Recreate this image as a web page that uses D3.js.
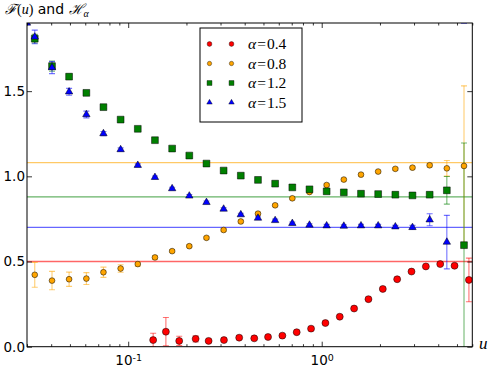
<!DOCTYPE html>
<html>
<head>
<meta charset="utf-8">
<script src="https://cdn.jsdelivr.net/npm/d3@7"></script>
<style>
  body { margin: 0; background: #fff; }
  .tick text { font-family: "DejaVu Sans", sans-serif; font-size: 13.5px; fill: #000; }
  .axis path { display: none; }
  .axis line { stroke: #000; stroke-width: 0.8; }
</style>
</head>
<body>
<div id="chart"></div>
<script>
var svgWidth = 491;
var svgHeight = 370;

var margin = { top: 23, right: 18.7, bottom: 23.3, left: 27 };
var chartWidth = svgWidth - margin.left - margin.right;
var chartHeight = svgHeight - margin.top - margin.bottom;

// u values (bins) shared by alpha = 0.8, 1.2, 1.5
var uBins = [0.0329, 0.0404, 0.0495, 0.0608, 0.0745, 0.0914, 0.1121, 0.1375, 0.1687, 0.2069,
             0.2538, 0.3113, 0.3819, 0.4685, 0.5746, 0.7049, 0.8646, 1.0605, 1.3009, 1.5958,
             1.9575, 2.4013, 2.9444, 3.6128, 4.4317, 5.4362];
// u values for alpha = 0.4
var uRed = [0.1346, 0.1566, 0.1835, 0.2231, 0.2604, 0.3125, 0.3746, 0.4481, 0.5280, 0.6262,
            0.7427, 0.8809, 1.0450, 1.2395, 1.4704, 1.7439, 2.0690, 2.4541, 2.9107, 3.4530,
            4.0960, 4.8584, 5.7637];

var fRed = [0.039, 0.088, 0.034, 0.046, 0.034, 0.039, 0.053, 0.049, 0.057, 0.065,
            0.085, 0.106, 0.139, 0.176, 0.224, 0.279, 0.339, 0.396, 0.441, 0.471,
            0.485, 0.475, 0.392];
var eRed = [0.040, 0.083, 0.027, 0.018, 0.008, 0.008, 0.010, 0.006, 0.006, 0.006,
            0.006, 0.006, 0.006, 0.006, 0.006, 0.006, 0.006, 0.006, 0.006, 0.006,
            0.006, 0.008, 0.128];

var fOrange = [0.422, 0.388, 0.396, 0.400, 0.437, 0.459, 0.485, 0.524, 0.561, 0.590,
               0.639, 0.685, 0.735, 0.781, 0.830, 0.871, 0.908, 0.949, 0.981, 1.010,
               1.028, 1.044, 1.051, 1.065, 1.047, 1.061];
var eOrange = [0.073, 0.054, 0.042, 0.035, 0.030, 0.022, 0.012, 0.010, 0.008, 0.008,
               0.008, 0.008, 0.008, 0.008, 0.008, 0.008, 0.008, 0.008, 0.008, 0.008,
               0.008, 0.008, 0.008, 0.010, 0.046, 0.470];

var fGreen = [1.808, 1.647, 1.585, 1.490, 1.406, 1.333, 1.279, 1.212, 1.163, 1.122,
              1.075, 1.034, 1.004, 0.979, 0.957, 0.935, 0.924, 0.912, 0.906, 0.898,
              0.896, 0.892, 0.888, 0.892, 0.918, 0.596];
var eGreen = [0.025, 0.030, 0.015, 0.010, 0.008, 0.008, 0.008, 0.008, 0.008, 0.008,
              0.008, 0.008, 0.008, 0.008, 0.008, 0.008, 0.008, 0.008, 0.008, 0.008,
              0.008, 0.008, 0.008, 0.010, 0.081, 0.600];

var fBlue = [1.818, 1.638, 1.496, 1.363, 1.251, 1.157, 1.065, 0.994, 0.928, 0.885,
             0.847, 0.808, 0.775, 0.755, 0.741, 0.724, 0.714, 0.710, 0.708, 0.710,
             0.710, 0.704, 0.700, 0.745, 0.614];
var eBlue = [0.040, 0.035, 0.020, 0.020, 0.012, 0.010, 0.008, 0.008, 0.008, 0.008,
             0.008, 0.008, 0.008, 0.008, 0.008, 0.008, 0.008, 0.008, 0.008, 0.008,
             0.008, 0.008, 0.012, 0.035, 0.157];

var alphas = ["0.4", "0.8", "1.2", "1.5"];
var hLevels = [0.50, 1.08, 0.88, 0.70];
var colors = ["#ff0000", "#ffa500", "#008000", "#0000ff"];

var series = [
  { u: uRed, f: fRed, e: eRed, shape: d3.symbolCircle, size: 38, legSize: 18 },
  { u: uBins, f: fOrange, e: eOrange, shape: d3.symbolCircle, size: 26, legSize: 15 },
  { u: uBins, f: fGreen, e: eGreen, shape: d3.symbolSquare, size: 46, legSize: 24 },
  { u: uBins, f: fBlue, e: eBlue, shape: d3.symbolTriangle, size: 24, legSize: 13 }
];

var svg = d3.select("#chart")
  .append("svg")
  .attr("width", svgWidth)
  .attr("height", svgHeight);

var defs = svg.append("defs");
defs.append("clipPath").attr("id", "clip")
  .append("rect")
  .attr("width", chartWidth)
  .attr("height", chartHeight);

var chartGroup = svg.append("g")
  .attr("transform", `translate(${margin.left}, ${margin.top})`);

var xScale = d3.scaleLog().domain([0.03, 6]).range([0, chartWidth]);
var yScale = d3.scaleLinear().domain([0, 1.9]).range([chartHeight, 0]);

var plot = chartGroup.append("g").attr("clip-path", "url(#clip)");

// horizontal H_alpha levels
plot.selectAll(".hline")
  .data(hLevels)
  .enter()
  .append("line")
  .attr("x1", 0)
  .attr("x2", chartWidth)
  .attr("y1", d => yScale(d))
  .attr("y2", d => yScale(d))
  .attr("stroke", (d, i) => colors[i])
  .attr("stroke-opacity", 0.6)
  .attr("stroke-width", 1.3);

series.forEach((s, i) => {
  var pts = s.u.map((u, j) => ({ u: u, f: s.f[j], e: s.e[j] }));
  var g = plot.append("g");
  var eb = g.selectAll(".eb").data(pts).enter().append("g")
    .attr("stroke", colors[i])
    .attr("stroke-opacity", 0.55)
    .attr("stroke-width", 1.1);
  eb.append("line")
    .attr("x1", d => xScale(d.u)).attr("x2", d => xScale(d.u))
    .attr("y1", d => yScale(d.f - d.e)).attr("y2", d => yScale(d.f + d.e));
  eb.append("line")
    .attr("x1", d => xScale(d.u) - 3).attr("x2", d => xScale(d.u) + 3)
    .attr("y1", d => yScale(d.f - d.e)).attr("y2", d => yScale(d.f - d.e));
  eb.append("line")
    .attr("x1", d => xScale(d.u) - 3).attr("x2", d => xScale(d.u) + 3)
    .attr("y1", d => yScale(d.f + d.e)).attr("y2", d => yScale(d.f + d.e));
});

series.forEach((s, i) => {
  var pts = s.u.map((u, j) => ({ u: u, f: s.f[j] }));
  plot.append("g").selectAll("path")
    .data(pts)
    .enter()
    .append("path")
    .attr("d", d3.symbol().type(s.shape).size(s.size))
    .attr("transform", d => `translate(${xScale(d.u)}, ${yScale(d.f)})`)
    .attr("fill", colors[i])
    .attr("stroke", "#000")
    .attr("stroke-width", 0.5);
});

// axes with inward ticks
var majorU = [0.1, 1];
var minorU = [0.03, 0.04, 0.05, 0.06, 0.07, 0.08, 0.09, 0.2, 0.3, 0.4, 0.5, 0.6, 0.7, 0.8, 0.9, 2, 3, 4, 5, 6];
var expLabels = { 0.1: "-1", 1: "0" };
var yTicks = [0, 0.5, 1.0, 1.5];

chartGroup.append("g").attr("class", "axis")
  .attr("transform", `translate(0, ${chartHeight})`)
  .call(d3.axisBottom(xScale).tickValues(minorU).tickSize(-2.5).tickFormat(""));
var xAxis = chartGroup.append("g").attr("class", "axis")
  .attr("transform", `translate(0, ${chartHeight})`)
  .call(d3.axisBottom(xScale).tickValues(majorU).tickSize(-5).tickPadding(9).tickFormat(""));
xAxis.selectAll(".tick text").each(function(d) {
  var t = d3.select(this);
  t.append("tspan").text("10");
  t.append("tspan").attr("dy", "-0.5em").attr("font-size", "9.5px").text(expLabels[d]);
});
chartGroup.append("g").attr("class", "axis")
  .call(d3.axisTop(xScale).tickValues(minorU).tickSize(-2.5).tickFormat(""));
chartGroup.append("g").attr("class", "axis")
  .call(d3.axisTop(xScale).tickValues(majorU).tickSize(-5).tickFormat(""));

chartGroup.append("g").attr("class", "axis")
  .call(d3.axisLeft(yScale).tickValues(yTicks).tickSize(-5).tickPadding(2).tickFormat(d3.format(".1f")));
chartGroup.append("g").attr("class", "axis")
  .attr("transform", `translate(${chartWidth}, 0)`)
  .call(d3.axisRight(yScale).tickValues(yTicks).tickSize(-5).tickFormat(""));

chartGroup.append("rect")
  .attr("width", chartWidth)
  .attr("height", chartHeight)
  .attr("fill", "none")
  .attr("stroke", "#000")
  .attr("stroke-width", 1);

// title and u label
var title = svg.append("text")
  .attr("x", 5)
  .attr("y", 14)
  .attr("font-size", "14px")
  .attr("font-family", "DejaVu Sans, sans-serif");
title.append("tspan").attr("font-family", "DejaVu Serif, serif").attr("font-style", "italic").text("\u2131");
title.append("tspan").attr("font-family", "Liberation Serif, serif").text("(");
title.append("tspan").attr("font-family", "Liberation Serif, serif").attr("font-style", "italic").text("u");
title.append("tspan").attr("font-family", "Liberation Serif, serif").text(")");
title.append("tspan").text(" and ");
title.append("tspan").attr("font-family", "DejaVu Serif, serif").attr("font-style", "italic").text("\u210B");
title.append("tspan").attr("font-family", "Liberation Serif, serif").attr("font-style", "italic")
  .attr("font-size", "10px").attr("dy", "3").text("\u03B1");

svg.append("text")
  .attr("x", 479)
  .attr("y", 349)
  .attr("font-family", "Liberation Serif, serif")
  .attr("font-style", "italic")
  .attr("font-size", "17px")
  .text("u");

// legend
var legend = svg.append("g").attr("transform", "translate(200, 28)");
legend.append("rect")
  .attr("width", 102)
  .attr("height", 94)
  .attr("fill", "#fff")
  .attr("stroke", "#000")
  .attr("stroke-width", 1);

var rows = legend.selectAll(".row")
  .data(alphas)
  .enter()
  .append("g")
  .attr("transform", (d, i) => `translate(0, ${16 + i * 19.5})`);

[9.5, 31.5].forEach(mx => {
  rows.append("path")
    .attr("d", (d, i) => d3.symbol().type(series[i].shape).size(series[i].legSize)())
    .attr("transform", `translate(${mx}, 0)`)
    .attr("fill", (d, i) => colors[i])
    .attr("stroke", "#000")
    .attr("stroke-width", 0.4);
});

var lt = rows.append("text")
  .attr("x", 48)
  .attr("y", 5)
  .attr("font-family", "Liberation Serif, serif")
  .attr("font-size", "15.5px");
lt.append("tspan").attr("font-style", "italic").text("\u03B1");
lt.append("tspan").attr("dx", 1).text("=");
lt.append("tspan").attr("dx", 1).text(d => d);
</script>
</body>
</html>
